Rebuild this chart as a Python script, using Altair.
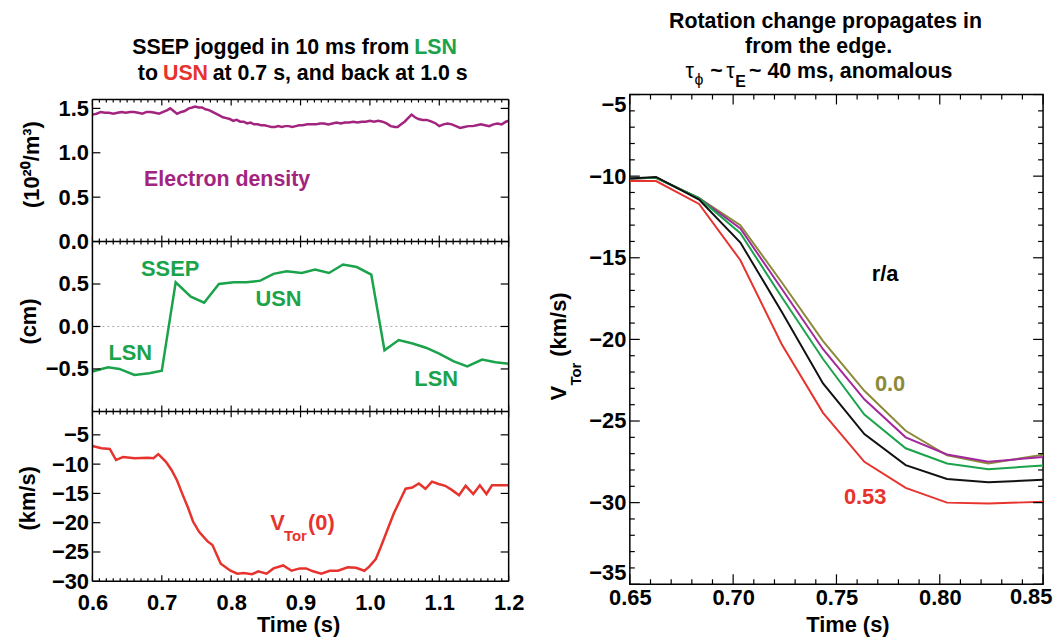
import altair as alt
import pandas as pd

FONT = "Liberation Sans, Arial, sans-serif"

# ---------------- left column data ----------------
dens_t = [0.600, 0.606, 0.612, 0.618, 0.624, 0.630, 0.636, 0.642, 0.648, 0.654,
          0.660, 0.666, 0.672, 0.678, 0.684, 0.690, 0.696, 0.702, 0.708, 0.712,
          0.717, 0.722, 0.728, 0.733, 0.739, 0.744, 0.748, 0.753, 0.758, 0.763,
          0.768, 0.773, 0.778, 0.783, 0.788, 0.793, 0.798, 0.803, 0.808, 0.813,
          0.818, 0.823, 0.828, 0.833, 0.838, 0.843, 0.848, 0.853, 0.858, 0.863,
          0.868, 0.873, 0.878, 0.883, 0.888, 0.893, 0.898, 0.903, 0.910, 0.916,
          0.922, 0.928, 0.934, 0.940, 0.946, 0.952, 0.958, 0.964, 0.970, 0.976,
          0.982, 0.988, 0.994, 1.000, 1.006, 1.012, 1.018, 1.024, 1.030, 1.036,
          1.040, 1.045, 1.050, 1.055, 1.060, 1.065, 1.070, 1.076, 1.082, 1.089,
          1.095, 1.100, 1.106, 1.112, 1.118, 1.124, 1.130, 1.136, 1.142, 1.148,
          1.154, 1.160, 1.166, 1.172, 1.178, 1.184, 1.190, 1.196, 1.200, 1.205]
dens_v = [1.43, 1.44, 1.46, 1.45, 1.45, 1.44, 1.45, 1.46, 1.45, 1.46,
          1.46, 1.45, 1.44, 1.46, 1.46, 1.45, 1.44, 1.46, 1.48, 1.50,
          1.47, 1.44, 1.46, 1.47, 1.50, 1.51, 1.52, 1.51, 1.51, 1.49,
          1.48, 1.46, 1.44, 1.42, 1.40, 1.39, 1.38, 1.36, 1.37, 1.35,
          1.35, 1.33, 1.34, 1.32, 1.32, 1.31, 1.31, 1.30, 1.29, 1.29,
          1.30, 1.29, 1.30, 1.30, 1.29, 1.30, 1.31, 1.31, 1.32, 1.32,
          1.32, 1.33, 1.33, 1.32, 1.33, 1.34, 1.33, 1.34, 1.34, 1.35,
          1.34, 1.35, 1.35, 1.36, 1.35, 1.36, 1.35, 1.33, 1.30, 1.29,
          1.29, 1.32, 1.35, 1.39, 1.43, 1.40, 1.38, 1.37, 1.37, 1.35,
          1.33, 1.30, 1.32, 1.33, 1.32, 1.30, 1.28, 1.29, 1.30, 1.30,
          1.31, 1.32, 1.31, 1.30, 1.32, 1.33, 1.32, 1.35, 1.36, 1.40]

ssep_t = [0.600, 0.6225, 0.639, 0.6606, 0.682, 0.700, 0.720, 0.7418, 0.761, 0.7823,
          0.8038, 0.822, 0.842, 0.861, 0.880, 0.9017, 0.921, 0.941, 0.9613, 0.981,
          1.002, 1.021, 1.0415, 1.0616, 1.0807, 1.0998, 1.121, 1.1403, 1.1618, 1.181,
          1.200]
ssep_v = [-0.53, -0.48, -0.50, -0.57, -0.55, -0.52, 0.52, 0.35, 0.28, 0.50,
          0.52, 0.52, 0.54, 0.62, 0.65, 0.63, 0.67, 0.63, 0.73, 0.70,
          0.61, -0.28, -0.16, -0.20, -0.25, -0.32, -0.41, -0.47, -0.39, -0.42,
          -0.44]

vtor0_t = [0.600, 0.613, 0.625, 0.634, 0.644, 0.661, 0.680, 0.688, 0.695, 0.706,
           0.714, 0.722, 0.730, 0.738, 0.745, 0.754, 0.766, 0.773, 0.785, 0.799,
           0.809, 0.818, 0.830, 0.839, 0.851, 0.861, 0.875, 0.887, 0.899, 0.908,
           0.918, 0.930, 0.942, 0.954, 0.968, 0.980, 0.992, 0.999, 1.0085, 1.0155,
           1.025, 1.0345, 1.0445, 1.0515, 1.061, 1.0705, 1.080, 1.0895, 1.099, 1.1085,
           1.118, 1.1285, 1.138, 1.149, 1.1585, 1.168, 1.176, 1.200]
vtor0_v = [-6.9, -7.3, -7.4, -9.3, -8.8, -9.0, -8.9, -9.0, -8.3, -9.6,
           -11.0, -12.8, -15.2, -17.5, -19.8, -21.6, -23.2, -23.8, -27.0, -28.2,
           -28.7, -28.6, -28.8, -28.3, -28.7, -27.8, -27.3, -28.2, -27.8, -27.8,
           -28.3, -28.7, -28.2, -28.2, -27.6, -27.7, -28.2, -27.5, -26.2, -24.2,
           -21.3, -18.4, -15.9, -14.2, -14.0, -13.3, -14.2, -13.0, -13.4, -13.7,
           -14.4, -15.3, -13.7, -15.1, -13.6, -15.1, -13.6, -13.6]

# ---------------- right panel data ----------------
prof_t = [0.65, 0.6627, 0.6835, 0.7035, 0.7235, 0.7435, 0.7635, 0.7835, 0.8035, 0.8235, 0.85]
ra_names = ["0.0", "r/a b", "r/a c", "r/a d", "0.53"]
v_ra0 = [-10.15, -10.10, -11.35, -13.00, -16.5, -20.1, -23.15, -25.60, -27.10, -27.60, -27.07]
v_rab = [-10.15, -10.10, -11.35, -13.20, -16.9, -20.6, -23.67, -26.00, -27.05, -27.50, -27.20]
v_rac = [-10.15, -10.10, -11.35, -13.50, -17.4, -21.2, -24.60, -26.67, -27.60, -27.96, -27.72]
v_rad = [-10.15, -10.05, -11.43, -14.07, -18.3, -22.7, -25.80, -27.70, -28.55, -28.75, -28.60]
v_ra53 = [-10.30, -10.30, -11.70, -15.15, -20.3, -24.5, -27.50, -29.10, -30.00, -30.05, -29.95]

# ---------------- tick values ----------------
left_x_major = [0.6, 0.7, 0.8, 0.9, 1.0, 1.1, 1.2]
left_x_minor = [round(0.6 + i / 100, 2) for i in range(1, 60) if i % 10]
dens_y_ticks = [0.0, 0.5, 1.0, 1.5]
ssep_y_ticks = [-0.5, 0.0, 0.5]
vtor0_y_ticks = [-30, -25, -20, -15, -10, -5]
right_x_major = [0.65, 0.70, 0.75, 0.80, 0.85]
right_x_minor = [round(i / 100, 2) for i in range(66, 85) if i % 5]
right_y_major = [-35, -30, -25, -20, -15, -10, -5]
right_y_minor = [i for i in range(-34, -5) if i % 5]

MAGENTA = "#A3247F"
GREEN = "#1BA34B"
RED = "#E6332E"
OLIVE = "#8B8A3A"
PURPLE = "#A3289C"
BLACK = "#111111"

FS = 22      # tick-label / axis-title size
TS = 21.5    # title size

# ---------------- layout (pixels) ----------------
W_L, H_L = 419, 490
BANDS = {"top": (5, 148), "mid": (148, 319), "bot": (319, 490)}
W_R, H_R = 416, 493


def band_domain(lo, hi, band):
    y_top, y_bot = band
    ppu = (y_bot - y_top) / (hi - lo)
    return [lo - (H_L - y_bot) / ppu, hi + y_top / ppu]


DOM_TOP = band_domain(0.0, 1.6, BANDS["top"])
DOM_MID = band_domain(-1.0, 1.0, BANDS["mid"])
DOM_BOT = band_domain(-30.0, -1.0, BANDS["bot"])

AX = dict(labelFontSize=FS, labelFontWeight="bold", labelColor="black",
          titleFontSize=FS, titleFontWeight="bold", titleColor="black",
          domain=False, ticks=False, tickSize=0, grid=False,
          labelOverlap=False, labelBound=False)

dummy = pd.DataFrame({"d": [0]})


def sc(dom):
    return alt.Scale(domain=dom, nice=False, zero=False)


def ptxt(text, x, y, color="black", size=FS, align="left", angle=0, weight="bold"):
    return alt.Chart(dummy).mark_text(
        text=text, align=align, baseline="alphabetic", fontSize=size,
        fontWeight=weight, color=color, angle=angle
    ).encode(x=alt.value(x), y=alt.value(y))


def dtxt(text, x, y, color="black", size=FS, ydom=None):
    ych = (alt.YDatum(y, type="quantitative", scale=sc(ydom), axis=None) if ydom
           else alt.YDatum(y, type="quantitative"))
    return alt.Chart(dummy).mark_text(
        text=text, align="left", baseline="alphabetic", fontSize=size,
        fontWeight="bold", color=color
    ).encode(x=alt.XDatum(x, type="quantitative"), y=ych)


def xtick_rules(vals, y0, L):
    d = pd.DataFrame({"x": vals})
    return alt.Chart(d).mark_rule(color="black", strokeWidth=1.2).encode(
        x=alt.X("x:Q"), y=alt.value(y0), y2=alt.value(y0 + L))


def ytick_rules(vals, x0, L, ydom=None):
    d = pd.DataFrame({"y": vals})
    ych = alt.Y("y:Q", scale=sc(ydom), axis=None) if ydom else alt.Y("y:Q")
    return alt.Chart(d).mark_rule(color="black", strokeWidth=1.2).encode(
        y=ych, x=alt.value(x0), x2=alt.value(x0 + L))


def frame_h(y, w):
    return alt.Chart(dummy).mark_rule(color="black", strokeWidth=1.5).encode(
        y=alt.value(y), x=alt.value(0), x2=alt.value(w))


def frame_v(x, y0, y1):
    return alt.Chart(dummy).mark_rule(color="black", strokeWidth=1.5).encode(
        x=alt.value(x), y=alt.value(y0), y2=alt.value(y1))


LX = alt.Scale(domain=[0.6, 1.2], nice=False, zero=False)


def yaxis(values, fmt, title, tx, ty):
    return alt.Axis(orient="left", values=values, format=fmt, labelPadding=4,
                    title=title, titleAngle=270, titleX=tx, titleY=ty,
                    titleBaseline="alphabetic", titleAlign="center", **AX)


dens_line = alt.Chart(pd.DataFrame({"x": dens_t, "y": dens_v})).mark_line(
    color=MAGENTA, strokeWidth=2.5, clip=True
).encode(
    x=alt.X("x:Q", scale=LX),
    y=alt.Y("y:Q", scale=sc(DOM_TOP),
            axis=yaxis(dens_y_ticks, ".1f", "(10\u00b2\u2070/m\u00b3)", -54, 70)),
)
ssep_line = alt.Chart(pd.DataFrame({"x": ssep_t, "y": ssep_v})).mark_line(
    color=GREEN, strokeWidth=2.5, clip=True
).encode(
    x=alt.X("x:Q", scale=LX),
    y=alt.Y("y:Q", scale=sc(DOM_MID), axis=yaxis(ssep_y_ticks, ".1f", "(cm)", -57, 228)),
)
vt_line = alt.Chart(pd.DataFrame({"x": vtor0_t, "y": vtor0_v})).mark_line(
    color=RED, strokeWidth=2.5, clip=True
).encode(
    x=alt.X("x:Q", scale=LX,
            axis=alt.Axis(values=left_x_major, format=".1f", labelPadding=11, labelFlush=False,
                          title="Time (s)", titleX=207, titleY=51,
                          titleBaseline="alphabetic", **AX)),
    y=alt.Y("y:Q", scale=sc(DOM_BOT), axis=yaxis(vtor0_y_ticks, "d", "(km/s)", -58, 406)),
)
zero_rule = alt.Chart(dummy).mark_rule(color="#aaaaaa", strokeWidth=1, strokeDash=[2, 3]).encode(
    y=alt.YDatum(0, type="quantitative", scale=sc(DOM_MID), axis=None),
    x=alt.value(0), x2=alt.value(W_L),
)

left_layers = [zero_rule, dens_line, ssep_line, vt_line]
for name, dom, yt in (("top", DOM_TOP, dens_y_ticks), ("mid", DOM_MID, ssep_y_ticks),
                      ("bot", DOM_BOT, vtor0_y_ticks)):
    y0, y1 = BANDS[name]
    left_layers += [
        xtick_rules(left_x_major, y0, 6), xtick_rules(left_x_minor, y0, 3),
        xtick_rules(left_x_major, y1, -6), xtick_rules(left_x_minor, y1, -3),
        ytick_rules(yt, 0, 8, dom), ytick_rules(yt, W_L, -8, dom),
        frame_h(y0, W_L),
    ]
left_layers += [
    frame_h(BANDS["bot"][1], W_L),
    frame_v(0, BANDS["top"][0], H_L),
    frame_v(W_L, BANDS["top"][0], H_L),
    dtxt("Electron density", 0.6745, 0.622, color=MAGENTA, size=TS, ydom=DOM_TOP),
    dtxt("SSEP", 0.670, 0.59, color=GREEN, ydom=DOM_MID),
    dtxt("USN", 0.835, 0.24, color=GREEN, ydom=DOM_MID),
    dtxt("LSN", 0.623, -0.40, color=GREEN, ydom=DOM_MID),
    dtxt("LSN", 1.064, -0.70, color=GREEN, ydom=DOM_MID),
    dtxt("V", 0.8564, -21.3, color=RED, ydom=DOM_BOT),
    dtxt("Tor", 0.876, -23.2, color=RED, size=15, ydom=DOM_BOT),
    dtxt("(0)", 0.9108, -21.3, color=RED, ydom=DOM_BOT),
    ptxt("SSEP jogged in 10 ms from", 319, -41, size=TS, align="right"),
    ptxt("LSN", 324, -41, color=GREEN, size=TS),
    ptxt("to", 66, -15, size=TS, align="right"),
    ptxt("USN", 71, -15, color=RED, size=TS),
    ptxt("at 0.7 s, and back at 1.0 s", 121, -15, size=TS),
]
left = alt.layer(*left_layers).resolve_scale(y="independent").properties(
    width=W_L, height=H_L, view=alt.ViewBackground(stroke="transparent"))

# ---------------- right panel ----------------
rows = []
for name, vals in zip(ra_names, [v_ra0, v_rab, v_rac, v_rad, v_ra53]):
    for t, v in zip(prof_t, vals):
        rows.append({"x": t, "y": v, "s": name})
prof = pd.DataFrame(rows)

prof_lines = alt.Chart(prof).mark_line(strokeWidth=2, clip=True).encode(
    x=alt.X("x:Q", scale=alt.Scale(domain=[0.65, 0.85], nice=False, zero=False),
            axis=alt.Axis(values=[0.65, 0.70, 0.75, 0.80], format=".2f", labelPadding=3,
                          labelFlush=False, title="Time (s)", titleX=219, titleY=48,
                          titleBaseline="alphabetic", **AX)),
    y=alt.Y("y:Q", scale=alt.Scale(domain=[-35, -5], nice=False, zero=False),
            axis=alt.Axis(values=right_y_major, format="d", labelPadding=4, labelFlush=True,
                          title=None, **AX)),
    color=alt.Color("s:N", scale=alt.Scale(domain=ra_names, range=[OLIVE, PURPLE, GREEN, BLACK, RED]),
                    legend=None),
)

last_label = alt.Chart(dummy).mark_text(
    text="0.85", align="center", baseline="top", fontSize=FS, fontWeight="bold", color="black", dx=-12
).encode(x=alt.XDatum(0.85, type="quantitative"), y=alt.value(H_R + 3))

right = alt.layer(
    prof_lines,
    xtick_rules(right_x_major, 0, 10), xtick_rules(right_x_minor, 0, 5),
    xtick_rules(right_x_major, H_R, -10), xtick_rules(right_x_minor, H_R, -5),
    ytick_rules(right_y_major, 0, 10), ytick_rules(right_y_minor, 0, 5),
    ytick_rules(right_y_major, W_R, -10), ytick_rules(right_y_minor, W_R, -5),
    dtxt("r/a", 0.7671, -16.44),
    dtxt("0.0", 0.7686, -23.14, color=OLIVE),
    dtxt("0.53", 0.7536, -30.08, color=RED),
    last_label,
    ptxt("V", -64, 308, angle=270),
    ptxt("Tor", -49, 293, angle=270, size=15),
    ptxt("(km/s)", -64, 264, angle=270),
    ptxt("Rotation change propagates in", 197, -67, size=TS, align="center"),
    ptxt("from the edge.", 190, -42, size=TS, align="center"),
    ptxt("\u03c4", 56, -17, size=TS, weight="normal"),
    ptxt("\u03d5", 65, -10, size=16, weight="normal"),
    ptxt("~", 81, -17, size=TS),
    ptxt("\u03c4", 97, -17, size=TS, weight="normal"),
    ptxt("E", 106, -8, size=16),
    ptxt("~ 40 ms, anomalous", 120, -17, size=TS),
).properties(width=W_R, height=H_R)

chart = alt.hconcat(left, right, spacing=122, bounds="flush").properties(
    padding={"left": 8, "top": 0, "right": 0, "bottom": 0}
).configure(font=FONT).configure_view(stroke="black", strokeWidth=1.5)

chart.save("out.html", embed_options={"renderer": "svg", "actions": False})
